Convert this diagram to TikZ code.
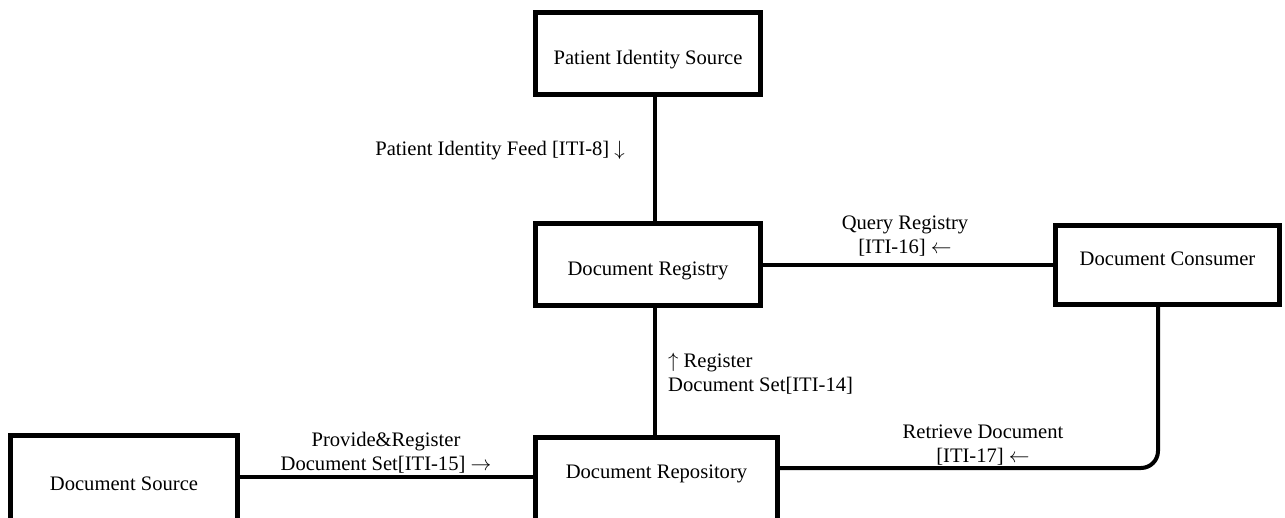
\documentclass[tikz,border=0pt]{standalone}
\usepackage{fontspec}
\setmainfont{Liberation Serif}
\tikzstyle{actor}=[rectangle,draw,line width=5pt,inner sep=0pt,minimum width=225pt,minimum height=82pt,text height=14pt,text depth=4pt]
\tikzstyle{msg}=[inner sep=0pt,align=center]
\tikzstyle{flow}=[line width=4pt]
\newcommand{\actor}{\node[actor]}
\newcommand{\msg}{\node[msg]}

\begin{document}
\begin{tikzpicture}[x=1pt,y=-1pt,font=\fontsize{20.6}{24}\selectfont]
			\useasboundingbox (0,0) rectangle (1285,517);
			% % % % % % % % % % % % % % % % % % % % % % % % % % % % %
			\actor [text height=25pt] (pis) at (648,53.5) {Patient Identity Source};
			\actor [text height=25pt] (registry) at (648,264.5) {Document Registry};
			\actor [minimum width=224pt,minimum height=79pt,text depth=14pt] (consumer) at (1167.5,265) {Document Consumer};
			\actor [minimum width=227pt,minimum height=95pt,text height=18pt] (source) at (124,483) {Document Source};
			\actor [minimum width=242pt,minimum height=95pt,text depth=28pt] (repository) at (656.5,485) {Document Repository};
			%*********************
			\msg [anchor=east] (m1) at (625,151) {Patient Identity Feed [ITI-8] $\downarrow$};
			\msg (m2) at (905,236) {Query Registry\\{}[ITI-16] $\leftarrow$};
			\msg [anchor=west,align=left] (m3) at (668,374) {$\uparrow$ Register\\Document Set[ITI-14]};
			\msg (m4) at (386,453) {Provide\&Register\\Document Set[ITI-15] $\rightarrow$};
			\msg (m5) at (983,445) {Retrieve Document\\{}[ITI-17] $\leftarrow$};
			% % % % % % % % % % % % % % % % %
			\path
			([xshift=7]pis.south) edge [flow] ([xshift=7]registry.north)
			(registry.east) edge [flow] (registry.east -| consumer.west)
			([xshift=7]registry.south) edge [flow] ([xshift=7]registry.south |- repository.north)
			([yshift=6]source.east) edge [flow] ([yshift=6]source.east -| repository.west)
			([xshift=-9.5]consumer.south) edge [flow,rounded corners=17pt,to path={|- (\tikztotarget)}] ([yshift=17]repository.east)
			;
\end{tikzpicture}
\end{document}
